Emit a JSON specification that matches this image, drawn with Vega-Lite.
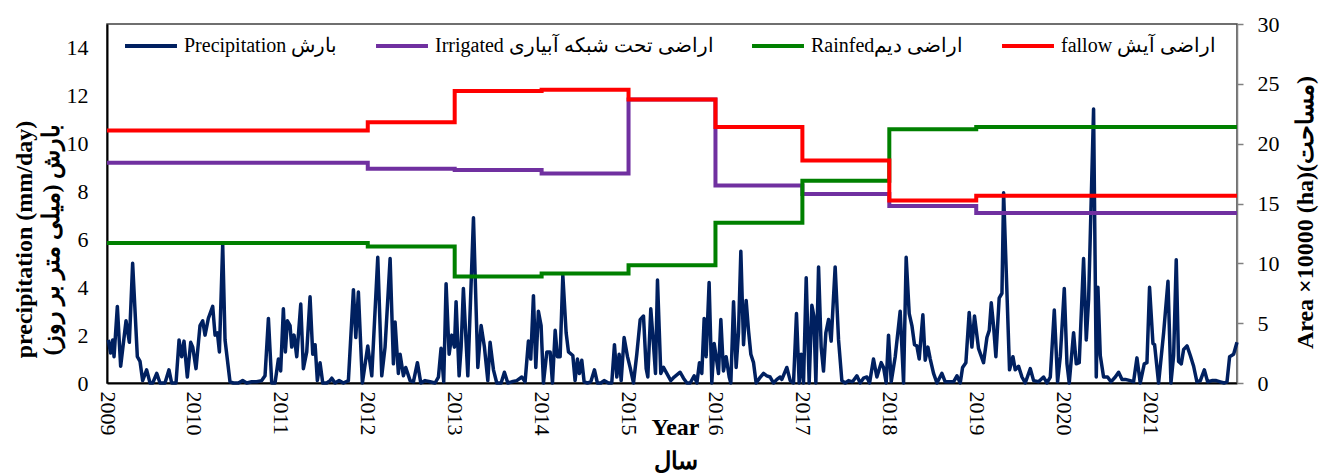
{
  "$schema": "https://vega.github.io/schema/vega-lite/v6.json",
  "width": 1130,
  "height": 359,
  "autosize": {"type": "none"},
  "padding": {"left": 107, "top": 24, "right": 85, "bottom": 90},
  "background": "white",
  "config": {
    "view": {"stroke": "#404040", "strokeWidth": 1.5},
    "font": "Liberation Serif",
    "axis": {"grid": false, "labelFont": "Liberation Serif", "labelFontSize": 22, "labelColor": "black", "titleFont": "Liberation Serif", "titleFontSize": 24, "titleColor": "black", "titleFontWeight": "bold", "labelFlush": false, "labelOverlap": false},
    "legend": {"labelFont": "Liberation Serif", "labelFontSize": 20, "labelColor": "black", "labelLimit": 500}
  },
  "datasets": {
    "precip": [
      {"year": 2009.015, "p": 1.8}, {"year": 2009.042, "p": 1.25}, {"year": 2009.065, "p": 1.8}, {"year": 2009.081, "p": 1.1}, {"year": 2009.119, "p": 3.2}, {"year": 2009.157, "p": 0.7}, {"year": 2009.219, "p": 2.6}, {"year": 2009.257, "p": 1.7}, {"year": 2009.295, "p": 5.0}, {"year": 2009.349, "p": 1.1}, {"year": 2009.38, "p": 0.9}, {"year": 2009.41, "p": 0.1}, {"year": 2009.456, "p": 0.55}, {"year": 2009.495, "p": 0}, {"year": 2009.526, "p": 0}, {"year": 2009.572, "p": 0.4}, {"year": 2009.61, "p": 0}, {"year": 2009.667, "p": 0}, {"year": 2009.713, "p": 0.55}, {"year": 2009.744, "p": 0}, {"year": 2009.794, "p": 0}, {"year": 2009.829, "p": 1.8}, {"year": 2009.859, "p": 1.1}, {"year": 2009.886, "p": 1.75}, {"year": 2009.924, "p": 0.25}, {"year": 2009.963, "p": 1.7}, {"year": 2009.986, "p": 1.5},
      {"year": 2010.024, "p": 0.6}, {"year": 2010.07, "p": 2.4}, {"year": 2010.101, "p": 2.6}, {"year": 2010.128, "p": 2.0}, {"year": 2010.166, "p": 2.7}, {"year": 2010.216, "p": 3.2}, {"year": 2010.243, "p": 2.0}, {"year": 2010.27, "p": 2.1}, {"year": 2010.293, "p": 1.3}, {"year": 2010.331, "p": 5.8}, {"year": 2010.358, "p": 1.8}, {"year": 2010.415, "p": 0.05}, {"year": 2010.454, "p": 0}, {"year": 2010.511, "p": 0}, {"year": 2010.561, "p": 0.1}, {"year": 2010.607, "p": 0}, {"year": 2010.665, "p": 0.05}, {"year": 2010.722, "p": 0.05}, {"year": 2010.78, "p": 0.1}, {"year": 2010.818, "p": 0.3}, {"year": 2010.857, "p": 2.7}, {"year": 2010.895, "p": 0}, {"year": 2010.933, "p": 0}, {"year": 2010.972, "p": 1.0}, {"year": 2010.998, "p": 0.5},
      {"year": 2011.029, "p": 3.1}, {"year": 2011.052, "p": 1.3}, {"year": 2011.075, "p": 2.6}, {"year": 2011.106, "p": 2.4}, {"year": 2011.125, "p": 1.5}, {"year": 2011.152, "p": 2.0}, {"year": 2011.183, "p": 1.1}, {"year": 2011.229, "p": 3.3}, {"year": 2011.259, "p": 0.6}, {"year": 2011.298, "p": 1.3}, {"year": 2011.336, "p": 3.6}, {"year": 2011.367, "p": 1.2}, {"year": 2011.394, "p": 1.6}, {"year": 2011.42, "p": 0.1}, {"year": 2011.451, "p": 0.85}, {"year": 2011.482, "p": 0}, {"year": 2011.528, "p": 0}, {"year": 2011.566, "p": 0.1}, {"year": 2011.586, "p": 0.2}, {"year": 2011.624, "p": 0}, {"year": 2011.67, "p": 0.1}, {"year": 2011.72, "p": 0}, {"year": 2011.777, "p": 0.1}, {"year": 2011.835, "p": 3.9}, {"year": 2011.862, "p": 1.9}, {"year": 2011.892, "p": 3.8}, {"year": 2011.938, "p": 0},
      {"year": 2012.0, "p": 1.55}, {"year": 2012.046, "p": 0.3}, {"year": 2012.115, "p": 5.25}, {"year": 2012.161, "p": 0.3}, {"year": 2012.199, "p": 1.5}, {"year": 2012.257, "p": 5.2}, {"year": 2012.295, "p": 0.8}, {"year": 2012.314, "p": 2.55}, {"year": 2012.352, "p": 0.4}, {"year": 2012.372, "p": 1.2}, {"year": 2012.41, "p": 0.3}, {"year": 2012.437, "p": 0.65}, {"year": 2012.487, "p": 0.1}, {"year": 2012.525, "p": 0.05}, {"year": 2012.571, "p": 0.85}, {"year": 2012.61, "p": 0}, {"year": 2012.659, "p": 0.1}, {"year": 2012.717, "p": 0.05}, {"year": 2012.774, "p": 0}, {"year": 2012.813, "p": 0.25}, {"year": 2012.843, "p": 1.45}, {"year": 2012.874, "p": 0.05}, {"year": 2012.901, "p": 4.15}, {"year": 2012.936, "p": 1.2}, {"year": 2012.966, "p": 2.0}, {"year": 2012.997, "p": 1.5},
      {"year": 2013.016, "p": 3.4}, {"year": 2013.051, "p": 0.3}, {"year": 2013.074, "p": 1.5}, {"year": 2013.1, "p": 3.95}, {"year": 2013.151, "p": 0.3}, {"year": 2013.216, "p": 6.9}, {"year": 2013.266, "p": 0.65}, {"year": 2013.304, "p": 2.4}, {"year": 2013.342, "p": 1.5}, {"year": 2013.381, "p": 0.1}, {"year": 2013.407, "p": 1.7}, {"year": 2013.446, "p": 0.55}, {"year": 2013.484, "p": 0}, {"year": 2013.534, "p": 0}, {"year": 2013.572, "p": 0.45}, {"year": 2013.611, "p": 0}, {"year": 2013.657, "p": 0.05}, {"year": 2013.714, "p": 0.1}, {"year": 2013.772, "p": 0.25}, {"year": 2013.81, "p": 0.05}, {"year": 2013.848, "p": 1.75}, {"year": 2013.875, "p": 1.0}, {"year": 2013.906, "p": 3.65}, {"year": 2013.933, "p": 0.65}, {"year": 2013.963, "p": 3.0}, {"year": 2013.994, "p": 2.4},
      {"year": 2014.021, "p": 0}, {"year": 2014.06, "p": 1.3}, {"year": 2014.098, "p": 1.3}, {"year": 2014.125, "p": 0}, {"year": 2014.156, "p": 2.2}, {"year": 2014.182, "p": 1.1}, {"year": 2014.213, "p": 1.1}, {"year": 2014.244, "p": 4.5}, {"year": 2014.282, "p": 2.1}, {"year": 2014.309, "p": 1.3}, {"year": 2014.359, "p": 1.15}, {"year": 2014.385, "p": 0.1}, {"year": 2014.412, "p": 1.0}, {"year": 2014.435, "p": 0.4}, {"year": 2014.462, "p": 0.95}, {"year": 2014.489, "p": 0.05}, {"year": 2014.527, "p": 0}, {"year": 2014.566, "p": 0.05}, {"year": 2014.608, "p": 0.55}, {"year": 2014.642, "p": 0}, {"year": 2014.681, "p": 0}, {"year": 2014.719, "p": 0.1}, {"year": 2014.769, "p": 0}, {"year": 2014.807, "p": 0}, {"year": 2014.838, "p": 1.6}, {"year": 2014.865, "p": 0.25}, {"year": 2014.892, "p": 1.2}, {"year": 2014.915, "p": 0.1}, {"year": 2014.949, "p": 1.9}, {"year": 2014.988, "p": 1.1},
      {"year": 2015.018, "p": 0.65}, {"year": 2015.057, "p": 0}, {"year": 2015.095, "p": 1.2}, {"year": 2015.134, "p": 2.65}, {"year": 2015.172, "p": 2.8}, {"year": 2015.203, "p": 0.6}, {"year": 2015.222, "p": 0.25}, {"year": 2015.256, "p": 3.1}, {"year": 2015.287, "p": 1.6}, {"year": 2015.31, "p": 0.4}, {"year": 2015.333, "p": 4.3}, {"year": 2015.371, "p": 0.4}, {"year": 2015.402, "p": 0.65}, {"year": 2015.44, "p": 0.4}, {"year": 2015.486, "p": 0.1}, {"year": 2015.525, "p": 0.25}, {"year": 2015.594, "p": 0.45}, {"year": 2015.632, "p": 0.2}, {"year": 2015.671, "p": 0}, {"year": 2015.709, "p": 0}, {"year": 2015.755, "p": 0.3}, {"year": 2015.786, "p": 0}, {"year": 2015.816, "p": 0.85}, {"year": 2015.843, "p": 0.4}, {"year": 2015.87, "p": 2.7}, {"year": 2015.893, "p": 1.1}, {"year": 2015.927, "p": 4.2}, {"year": 2015.958, "p": 0}, {"year": 2015.985, "p": 1.65},
      {"year": 2016.008, "p": 1.1}, {"year": 2016.035, "p": 0.4}, {"year": 2016.062, "p": 2.65}, {"year": 2016.092, "p": 0.5}, {"year": 2016.123, "p": 1.1}, {"year": 2016.158, "p": 0.25}, {"year": 2016.177, "p": 0}, {"year": 2016.208, "p": 3.4}, {"year": 2016.238, "p": 0.65}, {"year": 2016.265, "p": 2.1}, {"year": 2016.292, "p": 5.5}, {"year": 2016.323, "p": 1.6}, {"year": 2016.353, "p": 3.45}, {"year": 2016.38, "p": 2.2}, {"year": 2016.407, "p": 1.2}, {"year": 2016.438, "p": 0.85}, {"year": 2016.468, "p": 0}, {"year": 2016.507, "p": 0.2}, {"year": 2016.553, "p": 0.4}, {"year": 2016.591, "p": 0.3}, {"year": 2016.629, "p": 0.25}, {"year": 2016.668, "p": 0}, {"year": 2016.707, "p": 0.15}, {"year": 2016.745, "p": 0.25}, {"year": 2016.764, "p": 0.15}, {"year": 2016.821, "p": 0.65}, {"year": 2016.86, "p": 0.1}, {"year": 2016.898, "p": 0}, {"year": 2016.932, "p": 2.9}, {"year": 2016.963, "p": 0}, {"year": 2016.986, "p": 1.2},
      {"year": 2017.013, "p": 0}, {"year": 2017.044, "p": 4.4}, {"year": 2017.078, "p": 0}, {"year": 2017.109, "p": 3.25}, {"year": 2017.132, "p": 2.8}, {"year": 2017.155, "p": 0}, {"year": 2017.186, "p": 4.85}, {"year": 2017.216, "p": 1.5}, {"year": 2017.243, "p": 0.5}, {"year": 2017.27, "p": 2.1}, {"year": 2017.301, "p": 2.65}, {"year": 2017.331, "p": 1.75}, {"year": 2017.377, "p": 4.85}, {"year": 2017.416, "p": 1.8}, {"year": 2017.454, "p": 0.1}, {"year": 2017.493, "p": 0}, {"year": 2017.531, "p": 0.1}, {"year": 2017.577, "p": 0.05}, {"year": 2017.627, "p": 0.3}, {"year": 2017.665, "p": 0}, {"year": 2017.703, "p": 0.2}, {"year": 2017.742, "p": 0.25}, {"year": 2017.773, "p": 0}, {"year": 2017.818, "p": 1.0}, {"year": 2017.857, "p": 0.25}, {"year": 2017.907, "p": 0.85}, {"year": 2017.934, "p": 0.65}, {"year": 2017.964, "p": 0}, {"year": 2017.991, "p": 2.0},
      {"year": 2018.022, "p": 0.05}, {"year": 2018.068, "p": 1.1}, {"year": 2018.125, "p": 3.0}, {"year": 2018.164, "p": 0}, {"year": 2018.194, "p": 5.25}, {"year": 2018.229, "p": 2.9}, {"year": 2018.26, "p": 2.4}, {"year": 2018.29, "p": 1.6}, {"year": 2018.317, "p": 1.55}, {"year": 2018.344, "p": 1.0}, {"year": 2018.386, "p": 2.85}, {"year": 2018.413, "p": 0.95}, {"year": 2018.444, "p": 1.5}, {"year": 2018.471, "p": 1.0}, {"year": 2018.509, "p": 0.4}, {"year": 2018.548, "p": 0}, {"year": 2018.605, "p": 0.4}, {"year": 2018.643, "p": 0.05}, {"year": 2018.701, "p": 0.05}, {"year": 2018.739, "p": 0.05}, {"year": 2018.778, "p": 0.3}, {"year": 2018.816, "p": 0}, {"year": 2018.843, "p": 0.65}, {"year": 2018.881, "p": 0.85}, {"year": 2018.919, "p": 2.95}, {"year": 2018.95, "p": 1.5}, {"year": 2018.98, "p": 2.8},
      {"year": 2019.026, "p": 1.45}, {"year": 2019.084, "p": 0.85}, {"year": 2019.123, "p": 1.9}, {"year": 2019.15, "p": 2.2}, {"year": 2019.173, "p": 3.35}, {"year": 2019.199, "p": 2.4}, {"year": 2019.226, "p": 1.1}, {"year": 2019.264, "p": 3.55}, {"year": 2019.296, "p": 3.75}, {"year": 2019.315, "p": 7.95}, {"year": 2019.383, "p": 0.55}, {"year": 2019.422, "p": 1.1}, {"year": 2019.449, "p": 0.55}, {"year": 2019.487, "p": 0.7}, {"year": 2019.526, "p": 0.25}, {"year": 2019.564, "p": 0}, {"year": 2019.622, "p": 0.6}, {"year": 2019.66, "p": 0.1}, {"year": 2019.717, "p": 0.05}, {"year": 2019.775, "p": 0.25}, {"year": 2019.813, "p": 0}, {"year": 2019.852, "p": 0.25}, {"year": 2019.898, "p": 3.05}, {"year": 2019.936, "p": 0.05}, {"year": 2019.967, "p": 1.1},
      {"year": 2020.013, "p": 3.95}, {"year": 2020.044, "p": 0.8}, {"year": 2020.07, "p": 0}, {"year": 2020.12, "p": 2.1}, {"year": 2020.151, "p": 0.8}, {"year": 2020.185, "p": 0.85}, {"year": 2020.235, "p": 5.2}, {"year": 2020.266, "p": 1.8}, {"year": 2020.293, "p": 3.5}, {"year": 2020.35, "p": 11.45}, {"year": 2020.381, "p": 0.25}, {"year": 2020.4, "p": 4.0}, {"year": 2020.427, "p": 1.15}, {"year": 2020.465, "p": 0.25}, {"year": 2020.511, "p": 0.25}, {"year": 2020.55, "p": 0.05}, {"year": 2020.6, "p": 0.25}, {"year": 2020.638, "p": 0.45}, {"year": 2020.677, "p": 0.15}, {"year": 2020.715, "p": 0.15}, {"year": 2020.772, "p": 0.1}, {"year": 2020.81, "p": 0.05}, {"year": 2020.849, "p": 1.05}, {"year": 2020.887, "p": 0}, {"year": 2020.933, "p": 0.8}, {"year": 2020.964, "p": 0.85}, {"year": 2020.994, "p": 4.0},
      {"year": 2021.033, "p": 1.65}, {"year": 2021.052, "p": 1.6}, {"year": 2021.098, "p": 0}, {"year": 2021.156, "p": 2.1}, {"year": 2021.206, "p": 4.25}, {"year": 2021.24, "p": 0}, {"year": 2021.271, "p": 1.15}, {"year": 2021.301, "p": 5.15}, {"year": 2021.328, "p": 0.9}, {"year": 2021.359, "p": 0.8}, {"year": 2021.386, "p": 1.4}, {"year": 2021.425, "p": 1.55}, {"year": 2021.463, "p": 1.15}, {"year": 2021.501, "p": 0.7}, {"year": 2021.539, "p": 0.05}, {"year": 2021.578, "p": 0.1}, {"year": 2021.624, "p": 0.55}, {"year": 2021.662, "p": 0.05}, {"year": 2021.712, "p": 0.1}, {"year": 2021.762, "p": 0.1}, {"year": 2021.808, "p": 0.05}, {"year": 2021.854, "p": 0}, {"year": 2021.885, "p": 0.05}, {"year": 2021.915, "p": 1.1}, {"year": 2021.961, "p": 1.2}, {"year": 2022.0, "p": 1.7}
    ],
    "area": [
      {"year": 2009, "area": 18.4, "series": "Irrigated اراضی تحت شبکه آبیاری"},
      {"year": 2012, "area": 17.9, "series": "Irrigated اراضی تحت شبکه آبیاری"},
      {"year": 2013, "area": 17.8, "series": "Irrigated اراضی تحت شبکه آبیاری"},
      {"year": 2014, "area": 17.5, "series": "Irrigated اراضی تحت شبکه آبیاری"},
      {"year": 2015, "area": 23.7, "series": "Irrigated اراضی تحت شبکه آبیاری"},
      {"year": 2016, "area": 16.5, "series": "Irrigated اراضی تحت شبکه آبیاری"},
      {"year": 2017, "area": 15.8, "series": "Irrigated اراضی تحت شبکه آبیاری"},
      {"year": 2018, "area": 14.8, "series": "Irrigated اراضی تحت شبکه آبیاری"},
      {"year": 2019, "area": 14.2, "series": "Irrigated اراضی تحت شبکه آبیاری"},
      {"year": 2022, "area": 14.2, "series": "Irrigated اراضی تحت شبکه آبیاری"},
      {"year": 2009, "area": 11.7, "series": "Rainfedاراضی دیم"},
      {"year": 2012, "area": 11.4, "series": "Rainfedاراضی دیم"},
      {"year": 2013, "area": 8.9, "series": "Rainfedاراضی دیم"},
      {"year": 2014, "area": 9.15, "series": "Rainfedاراضی دیم"},
      {"year": 2015, "area": 9.85, "series": "Rainfedاراضی دیم"},
      {"year": 2016, "area": 13.4, "series": "Rainfedاراضی دیم"},
      {"year": 2017, "area": 16.9, "series": "Rainfedاراضی دیم"},
      {"year": 2018, "area": 21.2, "series": "Rainfedاراضی دیم"},
      {"year": 2019, "area": 21.4, "series": "Rainfedاراضی دیم"},
      {"year": 2022, "area": 21.4, "series": "Rainfedاراضی دیم"},
      {"year": 2009, "area": 21.1, "series": "fallow اراضی آیش"},
      {"year": 2012, "area": 21.8, "series": "fallow اراضی آیش"},
      {"year": 2013, "area": 24.4, "series": "fallow اراضی آیش"},
      {"year": 2014, "area": 24.5, "series": "fallow اراضی آیش"},
      {"year": 2015, "area": 23.7, "series": "fallow اراضی آیش"},
      {"year": 2016, "area": 21.4, "series": "fallow اراضی آیش"},
      {"year": 2017, "area": 18.6, "series": "fallow اراضی آیش"},
      {"year": 2018, "area": 15.25, "series": "fallow اراضی آیش"},
      {"year": 2019, "area": 15.65, "series": "fallow اراضی آیش"},
      {"year": 2022, "area": 15.65, "series": "fallow اراضی آیش"}
    ]
  },
  "layer": [
    {
      "data": {"name": "precip"},
      "mark": {"type": "line", "strokeWidth": 3.5, "strokeJoin": "round"},
      "encoding": {
        "x": {
          "field": "year", "type": "quantitative",
          "scale": {"domain": [2009, 2022], "nice": false, "zero": false},
          "axis": {
            "values": [2009, 2010, 2011, 2012, 2013, 2014, 2015, 2016, 2017, 2018, 2019, 2020, 2021],
            "format": "d", "labelAngle": 90, "ticks": false, "domainColor": "black", "domainWidth": 2, "labelPadding": 8,
            "title": ["Year", "سال"], "titleX": 568, "titleY": 32, "titleAlign": "center", "titleBaseline": "top", "titleLineHeight": 34
          }
        },
        "y": {
          "field": "p", "type": "quantitative",
          "scale": {"domain": [0, 15], "nice": false},
          "axis": {
            "values": [0, 2, 4, 6, 8, 10, 12, 14], "ticks": false, "domainColor": "black", "domainWidth": 2, "labelPadding": 19,
            "title": ["precipitation (mm/day)", "بارش (میلی متر بر روز)"], "titleAngle": 270, "titleX": -95, "titleY": 215, "titleAlign": "center", "titleBaseline": "top", "titleLineHeight": 27
          }
        },
        "color": {
          "datum": "Precipitation بارش", "type": "nominal",
          "scale": {
            "domain": ["Precipitation بارش", "Irrigated اراضی تحت شبکه آبیاری", "Rainfedاراضی دیم", "fallow اراضی آیش"],
            "range": ["#002060", "#7030A0", "#008000", "#FF0000"]
          },
          "legend": {
            "orient": "none", "legendX": 12, "legendY": -10, "direction": "horizontal", "title": null,
            "symbolType": "stroke", "symbolSize": 2700, "symbolStrokeWidth": 4, "columnPadding": 30, "labelOffset": 5, "padding": 4
          }
        }
      }
    },
    {
      "data": {"name": "area"},
      "mark": {"type": "line", "strokeWidth": 4, "interpolate": "step-after"},
      "encoding": {
        "x": {"field": "year", "type": "quantitative"},
        "y": {
          "field": "area", "type": "quantitative",
          "scale": {"domain": [0, 30], "nice": false},
          "axis": {
            "orient": "right", "values": [0, 5, 10, 15, 20, 25, 30], "domainColor": "#808080", "domainWidth": 1.5,
            "tickColor": "#808080", "tickSize": 6, "tickWidth": 1.5, "labelPadding": 14,
            "title": "Area ×10000 (ha)(مساحت)", "titleAngle": 270, "titleX": 68, "titleY": 188, "titleAlign": "center", "titleBaseline": "middle"
          }
        },
        "color": {"field": "series", "type": "nominal", "legend": {"title": null}}
      }
    }
  ],
  "resolve": {"scale": {"y": "independent"}}
}
